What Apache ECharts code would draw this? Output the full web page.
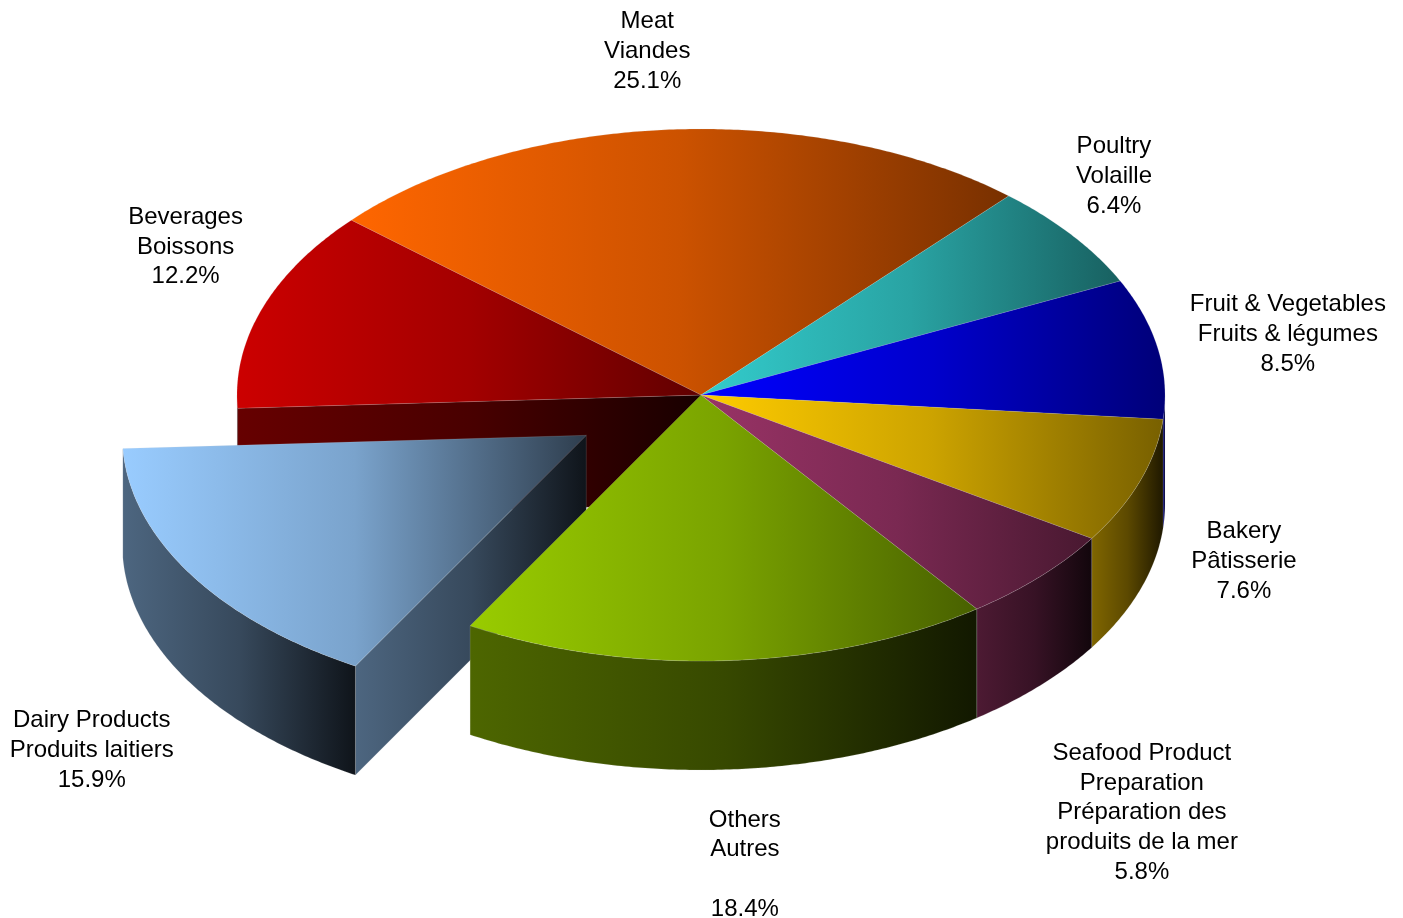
<!DOCTYPE html>
<html>
<head>
<meta charset="utf-8">
<style>html,body{margin:0;padding:0;background:#fff}#chart{width:1403px;height:918px}</style>
<script src="https://cdn.jsdelivr.net/npm/echarts@6/dist/echarts.min.js"></script>
</head>
<body>
<div id="chart"></div>
<script>
// Data (clockwise from the first slice)
var categories = [
  'Meat\nViandes',
  'Poultry\nVolaille',
  'Fruit & Vegetables\nFruits & légumes',
  'Bakery\nPâtisserie',
  'Seafood Product\nPreparation\nPréparation des\nproduits de la mer',
  'Others\nAutres\n',
  'Dairy Products\nProduits laitiers',
  'Beverages\nBoissons'
];
var shares = [25.1, 6.4, 8.5, 7.6, 5.8, 18.4, 15.9, 12.2];
var explodedFlags = [0, 0, 0, 0, 0, 0, 1, 0];
var colors = ['#FF6600', '#33CCCC', '#0000FF', '#FFCC00', '#993366', '#99CC00', '#99CCFF', '#CC0000'];

// Layout of the drawing
var CX = 701, CY = 395, RX = 464, RY = 266, DEPTH = 109;
var START_DEG = -48.9, EXPLODE = 0.29;
var labelNudges = [[-24,-78],[42,-59],[130,-14],[104,80],[102,236],[17,204],[-99,176],[-77,-61]];

var total = shares.reduce(function (a, b) { return a + b; }, 0);
var rad = Math.PI / 180;

function shade(hex, k) {
  var n = parseInt(hex.slice(1), 16);
  var r = Math.round((n >> 16 & 255) * k), g = Math.round((n >> 8 & 255) * k), b = Math.round((n & 255) * k);
  return 'rgb(' + r + ',' + g + ',' + b + ')';
}
function grad(c0, cm, c1) {
  return new echarts.graphic.LinearGradient(0, 0, 1, 0, [
    { offset: 0, color: c0 }, { offset: 0.5, color: cm }, { offset: 1, color: c1 }
  ]);
}
function rim(ox, oy, deg) {
  return [CX + ox + RX * Math.sin(deg * rad), CY + oy - RY * Math.cos(deg * rad)];
}
function arc(ox, oy, a, b) {
  var pts = [], n = Math.max(2, Math.ceil(Math.abs(b - a) * 2));
  for (var i = 0; i <= n; i++) pts.push(rim(ox, oy, a + (b - a) * i / n));
  return pts;
}
var edge = { stroke: 'rgba(215,215,215,0.3)', lineWidth: 0.5 };
function poly(points, fill, z2) {
  return {
    type: 'polygon', z2: z2, silent: true,
    shape: { points: points },
    style: { fill: fill, stroke: edge.stroke, lineWidth: edge.lineWidth }
  };
}

function renderSlice(params, api) {
  var i = params.dataIndex, before = 0;
  for (var j = 0; j < i; j++) before += shares[j];
  var a0 = START_DEG + before / total * 360;
  var a1 = a0 + shares[i] / total * 360;
  var mid = (a0 + a1) / 2;
  var ox = explodedFlags[i] ? EXPLODE * RX * Math.sin(mid * rad) : 0;
  var oy = explodedFlags[i] ? -EXPLODE * RY * Math.cos(mid * rad) : 0;
  var apex = [CX + ox, CY + oy];
  // Slices nearer the viewer paint later
  var rank = Math.round((1 - Math.cos(mid * rad)) * 100);
  var c = colors[i];
  var isBlue = c === '#99CCFF';
  var topFill = grad(c, shade(c, 0.8), shade(c, isBlue ? 0.3 : 0.47));
  var sideFill = grad(shade(c, 0.5), shade(c, 0.36), shade(c, isBlue ? 0.1 : 0.12));
  var children = [];

  var prev = (i + shares.length - 1) % shares.length, next = (i + 1) % shares.length;
  function face(deg) {
    var p = rim(ox, oy, deg);
    children.push(poly(
      [apex, p, [p[0], p[1] + DEPTH], [apex[0], apex[1] + DEPTH]],
      sideFill, rank
    ));
  }
  if (Math.sin(a0 * rad) < 0 && (explodedFlags[i] || explodedFlags[prev])) face(a0);
  if (Math.sin(a1 * rad) > 0 && (explodedFlags[i] || explodedFlags[next])) face(a1);

  // Outer wall: only the part on the near half of the ellipse shows
  var w0 = Math.max(a0, 90), w1 = Math.min(a1, 270);
  if (w1 > w0) {
    var upper = arc(ox, oy, w0, w1);
    var lower = upper.slice().reverse().map(function (p) { return [p[0], p[1] + DEPTH]; });
    children.push(poly(upper.concat(lower), sideFill, rank + 1));
  }
  // Top
  children.push(poly([apex].concat(arc(ox, oy, a0, a1)), topFill, rank + 2));

  // Label
  var m = rim(ox, oy, mid), nudge = labelNudges[i];
  children.push({
    type: 'text', z2: 1000, silent: true,
    style: {
      x: m[0] + nudge[0], y: m[1] + nudge[1],
      text: categories[i] + '\n' + api.value(0).toFixed(1) + '%',
      fill: '#000', font: '24px "Liberation Sans", Arial, sans-serif',
      lineHeight: 29.7, align: 'center', verticalAlign: 'middle'
    }
  });
  return { type: 'group', children: children };
}

var chart = echarts.init(document.getElementById('chart'));
chart.setOption({
  animation: false,
  backgroundColor: '#ffffff',
  series: [{
    type: 'custom',
    coordinateSystem: 'none',
    renderItem: renderSlice,
    clip: false,
    data: shares.map(function (v, i) { return { name: categories[i], value: [v] }; })
  }]
});
</script>
</body>
</html>
